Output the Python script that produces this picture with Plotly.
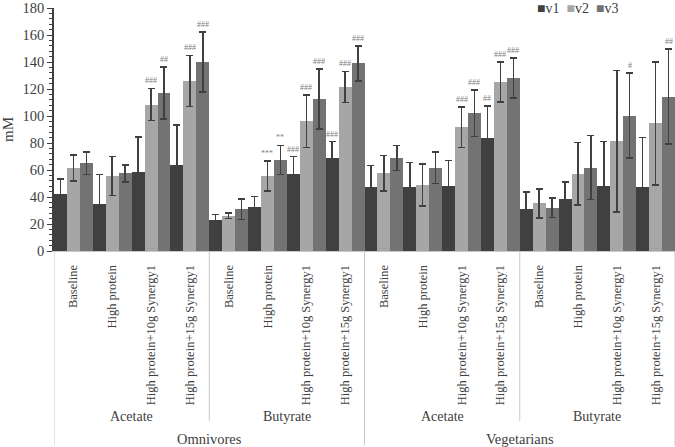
import plotly.graph_objects as go

diets = ["Baseline", "High protein", "High protein+10g Synergy1", "High protein+15g Synergy1"]
acids = ["Acetate", "Butyrate"]
groups = ["Omnivores", "Vegetarians"]

series_names = ["v1", "v2", "v3"]
series_colors = ["#404040", "#a6a6a6", "#737373"]

v1 = [42, 35, 58.5, 64, 23, 32.5, 57, 69, 47.7, 47.7, 48.5, 83.5, 30.9, 38.2, 48, 47.2]
v1_err = [11.5, 21.5, 26, 29.5, 4, 8, 13, 12, 15.8, 17.7, 18.6, 24, 12.8, 12.8, 33.3, 36.7]
v2 = [61.5, 55.5, 108.5, 126, 26, 55.5, 96, 121.5, 57.7, 48.9, 91.5, 125.2, 35.3, 57.2, 81.3, 94.5]
v2_err = [9.5, 14.5, 12, 19, 2, 11, 19.5, 11.5, 13.2, 15.4, 15, 14.8, 10.8, 23, 52.5, 45.5]
v3 = [65, 57.5, 117, 140, 31, 67.5, 112.5, 139, 68.9, 61.8, 102, 128.3, 32.1, 61.8, 100.3, 114.4]
v3_err = [8.5, 6.3, 19.2, 22.3, 7.5, 10.8, 22.3, 13, 9.3, 11.7, 17.1, 14.8, 7.1, 23.8, 31.5, 35.3]

sig_v1 = ["", "", "", "", "", "", "###", "###", "", "", "", "##", "", "", "", ""]
sig_v2 = ["", "", "###", "###", "", "***", "###", "###", "", "", "###", "###", "", "", "", ""]
sig_v3 = ["", "", "##", "###", "", "**", "###", "###", "", "", "###", "###", "", "", "#", "##"]

values = [v1, v2, v3]
errors = [v1_err, v2_err, v3_err]
sigs = [sig_v1, sig_v2, sig_v3]

labels = [d for g in groups for a in acids for d in diets]
n = len(labels)
xs = list(range(n))

SERIF = "Liberation Serif"

fig = go.Figure()
for k in range(3):
    fig.add_trace(go.Bar(
        name=series_names[k], x=xs, y=values[k],
        marker=dict(color=series_colors[k], line=dict(width=0)),
        error_y=dict(type="data", array=errors[k], visible=True,
                     color="#404040", thickness=1.5, width=3.5),
        showlegend=False,
    ))

annotations = []
offsets = [-1/3, 0, 1/3]
for k in range(3):
    for i in range(n):
        if sigs[k][i]:
            annotations.append(dict(
                x=xs[i] + offsets[k], y=values[k][i] + errors[k][i],
                xref="x", yref="y", text=sigs[k][i], showarrow=False,
                yanchor="bottom", yshift=1,
                font=dict(family=SERIF, size=8, color="#7f7f7f"),
            ))

na = len(diets)
for gi, g in enumerate(groups):
    for ai, a in enumerate(acids):
        start = (gi * len(acids) + ai) * na
        annotations.append(dict(
            x=start + (na - 1) / 2, y=-0.68, xref="x", yref="paper",
            text=a, showarrow=False, yanchor="middle",
            font=dict(family=SERIF, size=14, color="#404040"),
        ))
    start = gi * len(acids) * na
    annotations.append(dict(
        x=start + (len(acids) * na - 1) / 2, y=-0.772, xref="x", yref="paper",
        text=g, showarrow=False, yanchor="middle",
        font=dict(family=SERIF, size=14.5, color="#404040"),
    ))

leg_text = "  ".join(
    f"<span style='color:{c}'>■</span>{nm}" for nm, c in zip(series_names, series_colors)
)
annotations.append(dict(
    x=0.911, y=1.0, xref="paper", yref="paper", text=leg_text, showarrow=False,
    xanchor="right", yanchor="middle",
    font=dict(family=SERIF, size=14, color="#404040"),
))

shapes = []
for b in range(0, n + 1, na):
    long_line = (b % (len(acids) * na) == 0)
    shapes.append(dict(
        type="line", xref="x", yref="paper", x0=b - 0.5, x1=b - 0.5,
        y0=0, y1=-0.8 if long_line else -0.699,
        line=dict(color="#c8c8c8", width=1),
    ))

fig.update_layout(
    width=675, height=447,
    margin=dict(l=45, r=0, t=5, b=196),
    paper_bgcolor="white", plot_bgcolor="white",
    barmode="group", bargap=0, bargroupgap=0,
    annotations=annotations, shapes=shapes,
    xaxis=dict(
        range=[-0.5, n - 0.5], tickmode="array", tickvals=xs, ticktext=labels,
        tickangle=-90, ticks="", showgrid=False, zeroline=False,
        showline=True, linecolor="#c8c8c8", linewidth=1,
        tickfont=dict(family=SERIF, size=12.5, color="#404040"),
        ticklabelstandoff=8,
    ),
    yaxis=dict(
        range=[0, 180], dtick=20, ticks="outside", ticklen=5, tickwidth=1,
        tickcolor="#404040", showgrid=False, zeroline=False,
        showline=True, linecolor="#404040", linewidth=1.5,
        ticklabeloverflow="allow",
        minor=dict(dtick=4, ticks="outside", ticklen=3, tickcolor="#404040", tickwidth=1),
        tickfont=dict(family=SERIF, size=14.5, color="#404040"),
        title=dict(text="mM", font=dict(family=SERIF, size=15, color="#404040"), standoff=12),
    ),
)

fig.write_html(
    "out.html",
    config={"displayModeBar": False},
    post_script="document.body.style.margin='0';document.body.style.padding='0';",
)
